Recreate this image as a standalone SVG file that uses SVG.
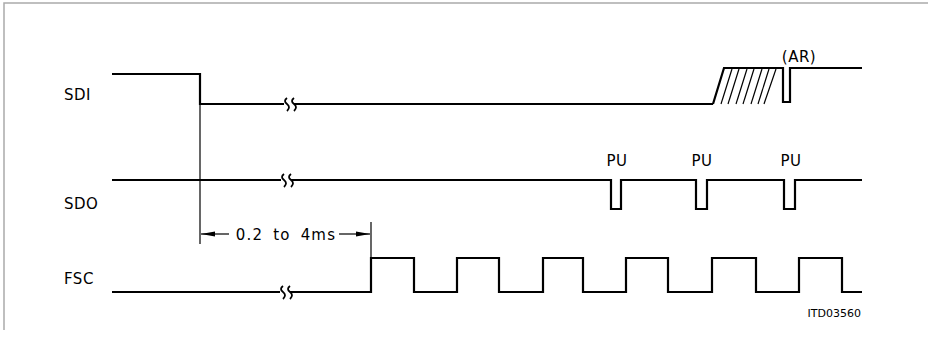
<svg xmlns="http://www.w3.org/2000/svg" width="928" height="355" viewBox="0 0 928 355">
<style>
.sig{fill:none;stroke:#000;stroke-width:2.2;stroke-linejoin:miter}
.thin{fill:none;stroke:#000;stroke-width:1.2}
.frame{fill:none;stroke:#aaa;stroke-width:1.5}
.brk{fill:none;stroke:#000;stroke-width:1.8}
text{font-family:"DejaVu Sans","Liberation Sans",sans-serif;fill:#000}
.lbl{font-size:15px;letter-spacing:0.5px}
.id{font-size:11px}
</style>
<defs>
<marker id="ah" markerWidth="14" markerHeight="6" refX="14" refY="3" orient="auto" markerUnits="userSpaceOnUse">
<path d="M0,0.5 L14,3 L0,5.5 Z" fill="#000"/>
</marker>
</defs>
<g id="frame">
<path class="frame" d="M4,330 V3 H928"/>
</g>
<g id="labels">
<text class="lbl" x="64" y="100">SDI</text>
<text class="lbl" x="64" y="209">SDO</text>
<text class="lbl" x="64" y="284">FSC</text>
<text class="lbl" x="799" y="62" text-anchor="middle">(AR)</text>
<text class="lbl" x="617" y="166" text-anchor="middle">PU</text>
<text class="lbl" x="702" y="166" text-anchor="middle">PU</text>
<text class="lbl" x="791" y="166" text-anchor="middle">PU</text>
<text class="lbl" x="286" y="240" text-anchor="middle" style="letter-spacing:1.2px;word-spacing:4px">0.2 to 4ms</text>
<text class="id" x="861" y="317" text-anchor="end">ITD03560</text>
</g>
<g id="connectors">
<g id="SDI">
<path class="sig" d="M112,74 H200 V104 H713"/>
<path class="sig" d="M713,104 L724,68 H783 V102 H790 V68 H862"/>
<g class="thin" stroke-width="1.6">
<path d="M721,104 L732,69"/>
<path d="M728,104 L739,69"/>
<path d="M736,104 L747,69"/>
<path d="M743,104 L754,69"/>
<path d="M751,104 L762,69"/>
<path d="M758,104 L769,69"/>
<path d="M764,104 L776,69"/>
</g>
<rect x="284" y="99" width="10" height="10" fill="#fff"/>
<path class="brk" d="M287,98 q-4,3 0,6 q4,3 0,7"/>
<path class="brk" d="M294,98 q-4,3 0,6 q4,3 0,7"/>
</g>
<g id="SDO">
<path class="sig" d="M112,180 H611 V209 H621 V180 H696 V209 H707 V180 H784 V209 H795 V180 H862"/>
<rect x="281" y="175" width="10" height="10" fill="#fff"/>
<path class="brk" d="M284,174 q-4,3 0,6 q4,3 0,7"/>
<path class="brk" d="M291,174 q-4,3 0,6 q4,3 0,7"/>
</g>
<g id="FSC">
<path class="sig" d="M112,292 H371 V258 H414 V292 H457 V258 H499 V292 H543 V258 H583 V292 H626 V258 H668 V292 H712 V258 H756 V292 H799 V258 H842 V292 H862"/>
<rect x="280" y="287" width="10" height="10" fill="#fff"/>
<path class="brk" d="M283,286 q-4,3 0,6 q4,3 0,7"/>
<path class="brk" d="M290,286 q-4,3 0,6 q4,3 0,7"/>
</g>
<g id="dimension">
<path class="thin" d="M200,104 V244"/>
<path class="thin" d="M371,222 V258"/>
<path class="thin" d="M229,234 H201" marker-end="url(#ah)"/>
<path class="thin" d="M339,234 H370" marker-end="url(#ah)"/>
</g>
</g>
</svg>
